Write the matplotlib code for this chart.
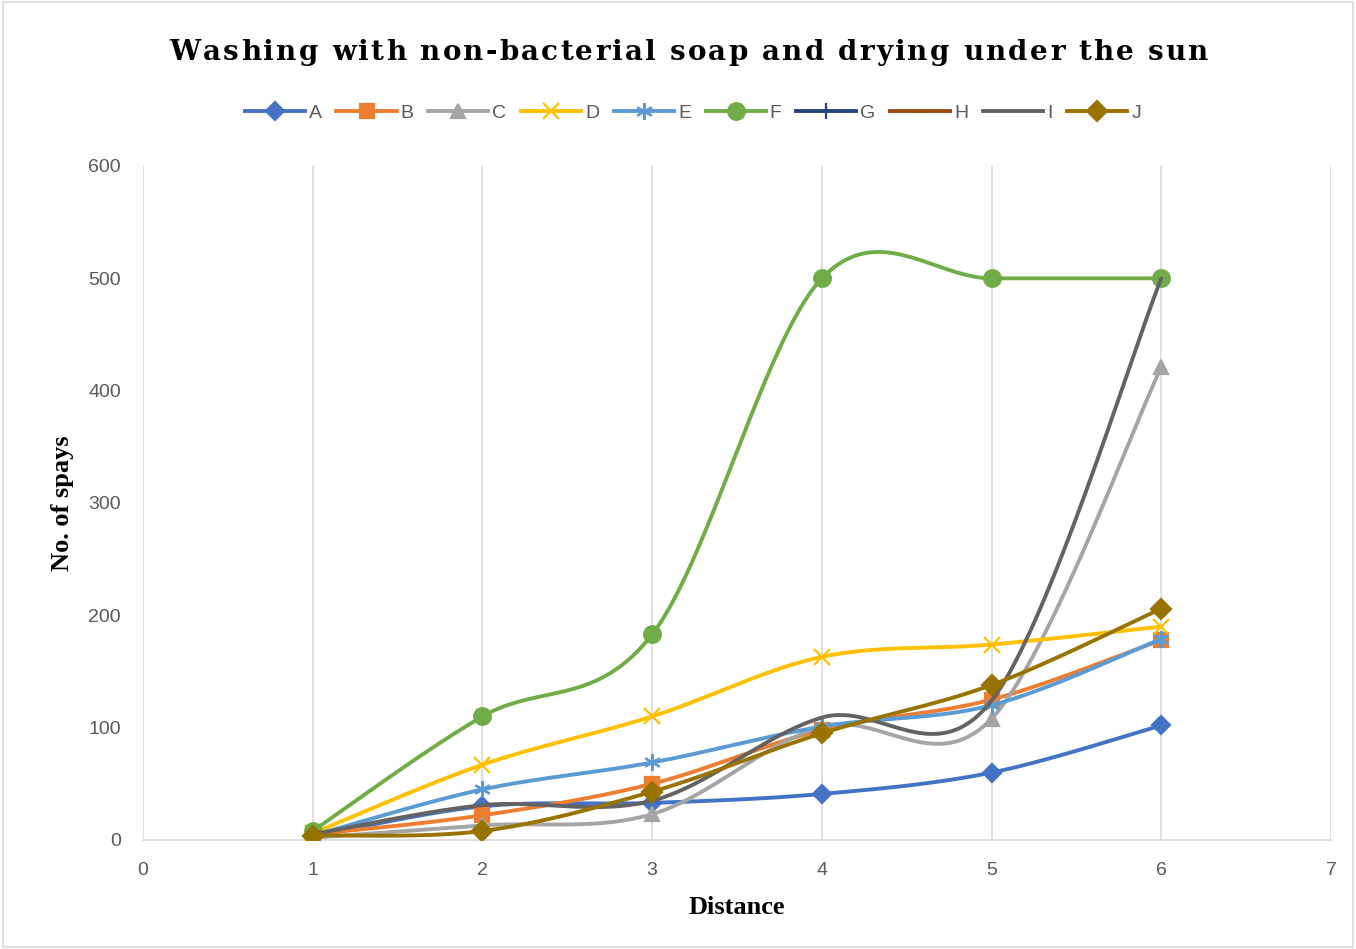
import matplotlib
matplotlib.use("Agg")
import matplotlib.pyplot as plt
import numpy as np

# data
distance = [1, 2, 3, 4, 5, 6]
series_names = ["A", "B", "C", "D", "E", "F", "G", "H", "I", "J"]
A = [3, 30, 33, 41, 60, 102]
B = [5, 22, 50, 98, 125, 178]
C = [2, 13, 23, 101, 108, 421]
D = [6, 67, 110, 163, 174, 190]
E = [4, 45, 69, 101, 120, 179]
F = [8, 110, 183, 500, 500, 500]
G = [np.nan] * 6
H = [np.nan] * 6
I = [5, 31, 35, 109, 124, 500]
J = [4, 8, 43, 95, 138, 206]
values = [A, B, C, D, E, F, G, H, I, J]

title = "Washing with non-bacterial soap and drying under the sun"

colors = ["#4472C4", "#ED7D31", "#A5A5A5", "#FFC000", "#5B9BD5",
          "#70AD47", "#264478", "#9E480E", "#636363", "#997300"]
markers = ["D", "s", "^", "x", (6, 2, 0), "o", "+", "_", None, "D"]
msizes = [9, 10, 10, 11, 12, 12, 11, 11, 0, 10]


def smooth(x, y, n=40):
    # Excel-style smoothed line: cubic Bezier with Catmull-Rom control points
    x = np.asarray(x, float)
    y = np.asarray(y, float)
    pts = np.column_stack([x, y])
    out = []
    for i in range(len(pts) - 1):
        p0 = pts[max(i - 1, 0)]
        p1 = pts[i]
        p2 = pts[i + 1]
        p3 = pts[min(i + 2, len(pts) - 1)]
        c1 = p1 + (p2 - p0) / 6.0
        c2 = p2 - (p3 - p1) / 6.0
        t = np.linspace(0, 1, n)[:, None]
        seg = ((1 - t) ** 3) * p1 + 3 * ((1 - t) ** 2) * t * c1 + 3 * (1 - t) * t ** 2 * c2 + t ** 3 * p2
        out.append(seg if i == 0 else seg[1:])
    seg = np.vstack(out)
    return seg[:, 0], seg[:, 1]


fig = plt.figure(figsize=(13.56, 9.49), dpi=100)
ax = fig.add_axes([143 / 1356, 1 - 840 / 949, 1188 / 1356, 674 / 949])

handles = []
for k, name in enumerate(series_names):
    y = values[k]
    col = colors[k]
    if not np.all(np.isnan(y)):
        sx, sy = smooth(distance, y)
        ax.plot(sx, sy, color=col, lw=2.8, zorder=3 + k, solid_capstyle="round")
        if markers[k] is not None:
            ax.plot(distance, y, ls="none", marker=markers[k], ms=msizes[k],
                    color=col, mec=col, mew=1.6, zorder=3 + k)
    h, = ax.plot([], [], color=col, lw=2.8, marker=markers[k],
                 ms=msizes[k], mec=col, mew=1.6)
    handles.append(h)

ax.set_xlim(0, 7)
ax.set_ylim(0, 600)
ax.set_xticks(range(0, 8))
ax.set_yticks(range(0, 601, 100))
ax.grid(axis="x", color="#D9D9D9", lw=1.2)
ax.set_axisbelow(True)
for s in ["top", "right", "left"]:
    ax.spines[s].set_visible(False)
ax.spines["bottom"].set_color("#D9D9D9")
ax.spines["bottom"].set_linewidth(1.2)
ax.tick_params(length=0, labelsize=14, labelcolor="#595959")
ax.tick_params(axis="x", pad=16)
ax.tick_params(axis="y", pad=16)
for lab in ax.get_xticklabels() + ax.get_yticklabels():
    lab.set_family("Liberation Sans")

ax.set_xlabel("Distance", family="Liberation Serif", fontweight="bold",
              fontsize=19, labelpad=12)
ax.set_ylabel("No. of spays", family="Liberation Serif", fontweight="bold",
              fontsize=19, labelpad=10)

# title with letter spacing, laid out one character at a time
renderer = fig.canvas.get_renderer()
tracking = 2.2  # extra px between characters
widths = []
for ch in title:
    t = fig.text(0, 0, ch if ch != " " else "n", family="DejaVu Serif",
                 fontweight="bold", fontsize=20)
    w = t.get_window_extent(renderer).width
    if ch == " ":
        t2 = fig.text(0, 0, "n n", family="DejaVu Serif", fontweight="bold", fontsize=20)
        w = t2.get_window_extent(renderer).width - 2 * w
        t2.remove()
    t.remove()
    widths.append(w)
total = sum(widths) + tracking * (len(title) - 1)
x0 = 0.508 * 1356 - total / 2
for ch, w in zip(title, widths):
    if ch != " ":
        fig.text(x0 / 1356, 1 - 53 / 949, ch, ha="left", va="center",
                 family="DejaVu Serif", fontweight="bold", fontsize=20)
    x0 += w + tracking

fig.legend(handles, series_names, loc="center", bbox_to_anchor=(0.511, 1 - 113 / 949),
           ncol=10, frameon=False, handlelength=3.1,
           handletextpad=0.2, columnspacing=0.75, numpoints=1,
           prop={"family": "Liberation Sans", "size": 14})
for txt in fig.legends[0].get_texts():
    txt.set_color("#595959")

fig.patches.append(plt.Rectangle((0.002, 0.002), 0.996, 0.996, transform=fig.transFigure,
                                 fill=False, edgecolor="#D9D9D9", lw=1.2))

fig.savefig("out.png", dpi=100)
